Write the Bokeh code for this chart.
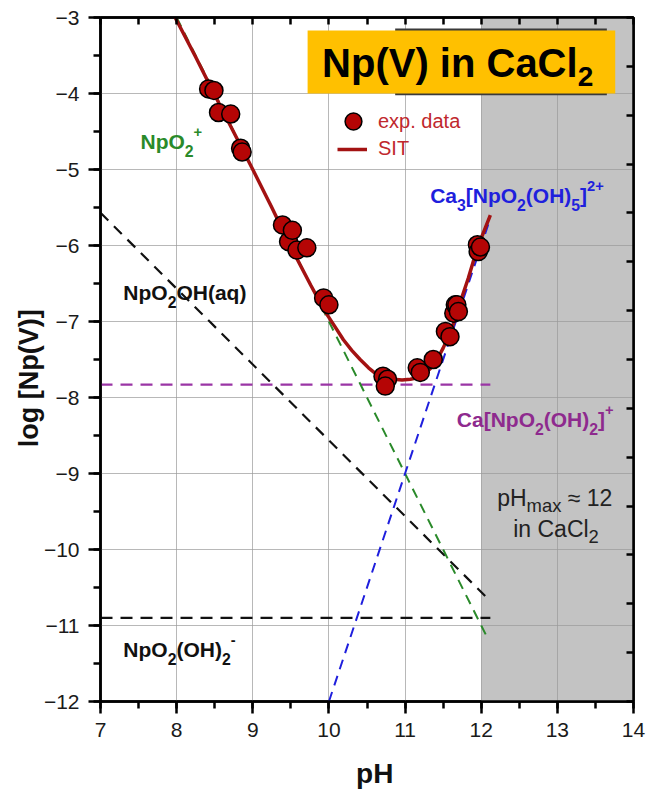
from bokeh.plotting import figure
from bokeh.models import (Range1d, LinearAxis, SingleIntervalTicker, Label, BoxAnnotation,
                          Legend, LegendItem, CustomJSTickFormatter)
from bokeh.embed import file_html
from bokeh.resources import INLINE

# ---------------- data ----------------
exp_ph = [8.42, 8.49, 8.55, 8.71, 8.84, 8.86, 9.39, 9.47, 9.52, 9.58, 9.71, 9.93, 10.00,
          10.71, 10.77, 10.74, 11.16, 11.20, 11.37, 11.53, 11.59, 11.64, 11.66, 11.68, 11.70,
          11.95, 11.96, 11.99]
exp_log = [-3.94, -3.96, -4.25, -4.27, -4.72, -4.77, -5.73, -5.95, -5.80, -6.06, -6.03, -6.69, -6.78,
           -7.72, -7.76, -7.85, -7.61, -7.67, -7.50, -7.13, -7.20, -6.89, -6.78, -6.78, -6.87,
           -5.99, -6.08, -6.02]

sit_ph = [7.98, 8.25, 8.50, 8.75, 9.00, 9.25, 9.50, 9.76, 9.95, 10.10, 10.19, 10.30, 10.41, 10.52,
          10.63, 10.74, 10.85, 10.96, 11.07, 11.16, 11.24, 11.33, 11.42, 11.50, 11.59, 11.66,
          11.72, 11.83, 11.95, 12.12]
sit_log = [-3.00, -3.52, -4.02, -4.51, -5.00, -5.50, -6.02, -6.52, -6.87, -7.10, -7.24, -7.38, -7.50,
           -7.61, -7.70, -7.74, -7.76, -7.77, -7.76, -7.74, -7.70, -7.62, -7.50, -7.35, -7.15, -6.96,
           -6.76, -6.43, -6.03, -5.60]

npo2_ph, npo2_log = [8.00, 12.08], [-3.00, -11.16]            # NpO2+
ca3_ph, ca3_log = [10.00, 12.12], [-12.00, -5.64]             # Ca3[NpO2(OH)5]2+
ca1_ph, ca1_log = [7.00, 12.12], [-7.83, -7.83]               # Ca[NpO2(OH)2]+
oh_ph, oh_log = [7.00, 12.12], [-5.57, -10.68]                # NpO2OH(aq)
oh2_ph, oh2_log = [7.00, 12.12], [-10.90, -10.90]             # NpO2(OH)2-

ph_max = 12.0
x_lim = [7, 14]
y_lim = [-12, -3]

# ---------------- helpers ----------------
FONT = "Liberation Sans"
BW = {' ': 278, '\u00a0': 278, '(': 333, ')': 333, '[': 333, ']': 333, '+': 584, '-': 333,
      'C': 722, 'H': 722, 'N': 722, 'O': 778, 'V': 667, 'I': 278, 'a': 556, 'c': 556, 'd': 611,
      'e': 556, 'g': 611, 'i': 278, 'l': 278, 'm': 889, 'n': 611, 'o': 611, 'p': 611, 'q': 611,
      'x': 556, 't': 333}
RW = {' ': 278, '\u00a0': 278, '(': 333, ')': 333, '+': 584, '-': 333, 'C': 722, 'H': 722,
      'a': 556, 'c': 500, 'i': 222, 'l': 222, 'm': 833, 'n': 556, 'p': 556, 'x': 500,
      '\u2248': 584}
BASE_CORR = 0.36   # raise text so the glyph baseline sits on the anchor


def tw(s, fs, bold):
    t = BW if bold else RW
    return sum(t.get(ch, 556) for ch in s) * fs / 1000.0


p = figure(width=646, height=791, x_range=Range1d(*x_lim), y_range=Range1d(*y_lim),
           output_backend="svg", toolbar_location=None,
           min_border_left=100, min_border_right=13, min_border_top=17, min_border_bottom=88,
           background_fill_color="white", border_fill_color="white")


def rich(x, y, parts, size, color, bold=True, sub_dy=0.36, sub_scale=0.75):
    off = 0.0
    for txt, kind in parts:
        if kind == "n":
            fs, dy = size, 0.0
        elif kind == "b":
            fs, dy = size * sub_scale, -size * sub_dy
        else:
            fs, dy = size * 0.7, size * 0.55
        p.add_layout(Label(x=x, y=y, x_offset=off, y_offset=dy + BASE_CORR * fs, text=txt,
                           text_font=FONT, text_font_size=f"{fs:.1f}px",
                           text_font_style="bold" if bold else "normal",
                           text_color=color, text_align="left", text_baseline="alphabetic"))
        off += tw(txt, fs, bold)


# ---------------- background band ----------------
p.add_layout(BoxAnnotation(left=ph_max, fill_color="#c3c3c3", fill_alpha=1.0,
                           line_alpha=0, level="image"))

# ---------------- grid / axes ----------------
p.xgrid.ticker = SingleIntervalTicker(interval=1)
p.ygrid.ticker = SingleIntervalTicker(interval=1)
for g in (p.xgrid, p.ygrid):
    g.grid_line_color = "#9a9a9a"
    g.grid_line_alpha = 0.7
    g.grid_line_width = 1

fmt = CustomJSTickFormatter(code="return (tick < 0 ? '\\u2212' : '') + Math.abs(tick).toFixed(0);")
for ax in (p.xaxis[0], p.yaxis[0]):
    ax.ticker = SingleIntervalTicker(interval=1, num_minor_ticks=2)
    ax.formatter = fmt
    ax.axis_line_width = 2.5
    ax.axis_line_color = "black"
    ax.major_tick_line_width = 2.5
    ax.minor_tick_line_width = 2.5
    ax.major_tick_out = 12
    ax.major_tick_in = 0
    ax.minor_tick_out = 7
    ax.minor_tick_in = 0
    ax.major_label_text_font = FONT
    ax.major_label_text_font_size = "21px"
    ax.major_label_text_color = "#1a1a1a"
    ax.major_label_standoff = 9

p.xaxis.axis_label = "\u00a0\u00a0pH"
p.xaxis.axis_label_text_font = FONT
p.xaxis.axis_label_text_font_size = "28px"
p.xaxis.axis_label_text_font_style = "bold"
p.xaxis.axis_label_text_color = "#111111"
p.xaxis.axis_label_standoff = 18

p.yaxis.axis_label = "log [Np(V)]\u00a0\u00a0\u00a0\u00a0\u00a0"
p.yaxis.axis_label_text_font = FONT
p.yaxis.axis_label_text_font_size = "27px"
p.yaxis.axis_label_text_font_style = "bold"
p.yaxis.axis_label_text_color = "#111111"
p.yaxis.axis_label_standoff = -3

blank = CustomJSTickFormatter(code="return '';")
top = LinearAxis(ticker=SingleIntervalTicker(interval=0.5, num_minor_ticks=0), formatter=blank,
                 major_tick_in=7, major_tick_out=0, minor_tick_in=0, minor_tick_out=0,
                 major_label_text_font_size="8px", major_label_standoff=0,
                 axis_line_width=2.5, major_tick_line_width=2.5)
p.add_layout(top, "above")

p.extra_y_ranges = {"r": Range1d(0, 14)}
right = LinearAxis(y_range_name="r", ticker=SingleIntervalTicker(interval=1, num_minor_ticks=0),
                   formatter=blank,
                   major_tick_in=7, major_tick_out=0, minor_tick_in=0, minor_tick_out=0,
                   major_label_text_font_size="8px", major_label_standoff=0,
                   axis_line_width=2.5, major_tick_line_width=2.5)
p.add_layout(right, "right")

p.outline_line_color = "black"
p.outline_line_width = 2.5

# ---------------- species lines ----------------
p.line(oh_ph, oh_log, line_color="#111111", line_width=2.2, line_dash="11 8")
p.line(oh2_ph, oh2_log, line_color="#111111", line_width=2.4, line_dash="12 8")
p.line(ca1_ph, ca1_log, line_color="#9a35a5", line_width=2.4, line_dash="12 8")
p.line(npo2_ph, npo2_log, line_color="#2a8a2a", line_width=2, line_dash="10 7")
p.line(ca3_ph, ca3_log, line_color="#1f1fdd", line_width=2, line_dash="10 7")

sit_r = p.line(sit_ph, sit_log, line_color="#a31212", line_width=3.5)
exp_r = p.scatter(exp_ph, exp_log, size=18, fill_color="#b50505", line_color="black",
                  line_width=1.5)

# ---------------- title box ----------------
p.add_layout(BoxAnnotation(left=10.87, right=13.65, top=-3.144, bottom=-4.024,
                           fill_color="#3a3a3a", fill_alpha=1.0, line_alpha=0))
p.add_layout(BoxAnnotation(left=9.72, right=13.76, top=-3.17, bottom=-4.0,
                           fill_color="#FFC000", fill_alpha=1.0, line_alpha=0))
rich(9.91, -3.79, [("Np(V) in CaCl", "n"), ("2", "b")], 40, "black", bold=True,
     sub_dy=0.22, sub_scale=0.7)

# ---------------- species labels ----------------
rich(7.525, -4.73, [("NpO", "n"), ("2", "b"), ("+", "p")], 21, "#2a8a2a")
rich(7.30, -6.72, [("NpO", "n"), ("2", "b"), ("OH(aq)", "n")], 21, "#111111")
rich(11.33, -5.44, [("Ca", "n"), ("3", "b"), ("[NpO", "n"), ("2", "b"), ("(OH)", "n"),
                    ("5", "b"), ("]", "n"), ("2+", "p")], 21, "#1f1fdd")
rich(11.68, -8.39, [("Ca[NpO", "n"), ("2", "b"), ("(OH)", "n"), ("2", "b"), ("]", "n"),
                    ("+", "p")], 21, "#8e2a8e")
rich(7.30, -11.41, [("NpO", "n"), ("2", "b"), ("(OH)", "n"), ("2", "b"), ("-", "p")], 21,
     "#111111")
rich(12.21, -9.43, [("pH", "n"), ("max", "b"), ("\u00a0\u2248 12", "n")], 23, "#222222",
     bold=False, sub_dy=0.25, sub_scale=0.8)
rich(12.42, -9.84, [("in CaCl", "n"), ("2", "b")], 23, "#222222", bold=False,
     sub_dy=0.25, sub_scale=0.8)

# ---------------- legend ----------------
leg1 = Legend(items=[LegendItem(label="exp. data", renderers=[exp_r])],
              location=(232, 559), glyph_width=42, glyph_height=42, label_standoff=4,
              padding=0, margin=0, spacing=0, border_line_alpha=0, background_fill_alpha=0,
              label_text_font=FONT, label_text_font_size="20px", label_text_color="#c0282d")
leg2 = Legend(items=[LegendItem(label="SIT", renderers=[sit_r])],
              location=(237, 541), glyph_width=30, glyph_height=20, label_standoff=11,
              padding=0, margin=0, spacing=0, border_line_alpha=0, background_fill_alpha=0,
              label_text_font=FONT, label_text_font_size="20px", label_text_color="#c0282d")
p.add_layout(leg1)
p.add_layout(leg2)

open("out.html", "w").write(file_html(p, INLINE))
